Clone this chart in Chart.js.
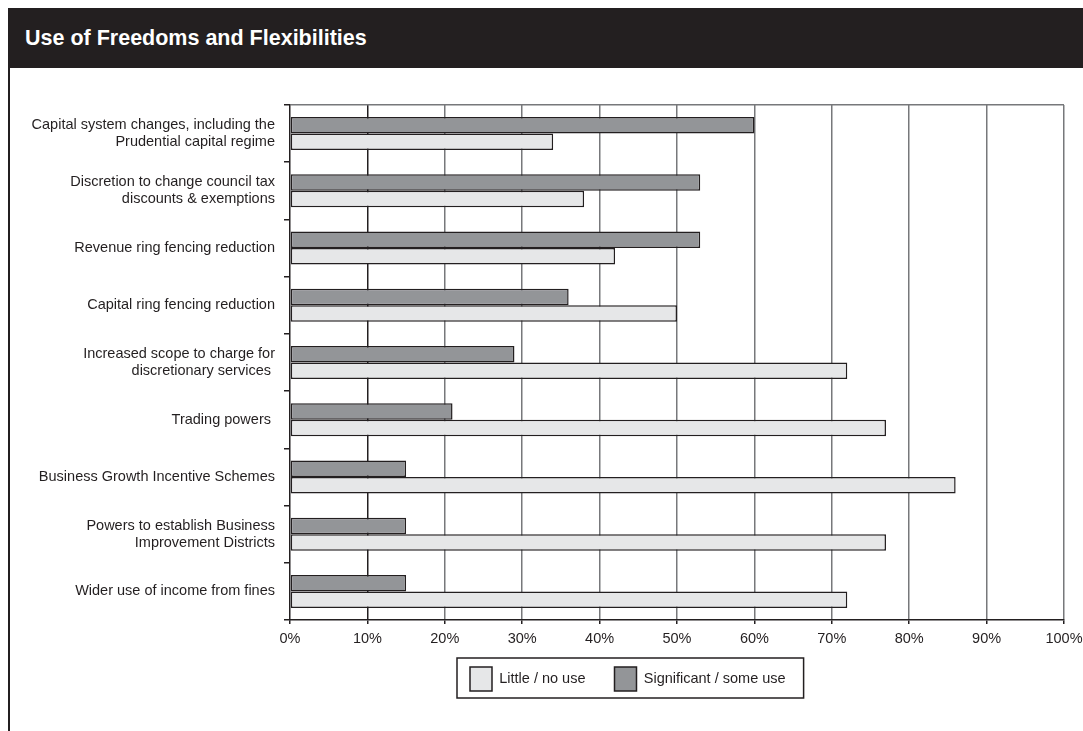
<!DOCTYPE html>
<html>
<head>
<meta charset="utf-8">
<title>Use of Freedoms and Flexibilities</title>
<script src="https://cdn.jsdelivr.net/npm/chart.js@4.4.0/dist/chart.umd.min.js"></script>
<style>
  html, body { margin: 0; padding: 0; background: #fff; }
  body { width: 1083px; height: 731px; position: relative; overflow: hidden;
         font-family: "Liberation Sans", Arial, Helvetica, sans-serif; }
  .titlebar { position: absolute; left: 8px; top: 8px; right: 0; height: 60px; background: #231f20; }
  .titlebar h1 { margin: 0; position: absolute; left: 17px; top: 18px; color: #fff;
                 font-size: 21.5px; font-weight: bold; }
  .edge { position: absolute; left: 8px; top: 8px; bottom: 0; width: 2px; background: #231f20; }
  #chart { position: absolute; left: 0; top: 0; }
</style>
</head>
<body>
<div class="titlebar"><h1>Use of Freedoms and Flexibilities</h1></div>
<div class="edge"></div>
<canvas id="chart" width="1083" height="731"></canvas>

<script>
// survey responses, % of councils
const categories = [
  ['Capital system changes, including the', 'Prudential capital regime'],
  ['Discretion to change council tax', 'discounts & exemptions'],
  'Revenue ring fencing reduction',
  'Capital ring fencing reduction',
  ['Increased scope to charge for', 'discretionary services '],
  'Trading powers ',
  'Business Growth Incentive Schemes',
  ['Powers to establish Business', 'Improvement Districts'],
  'Wider use of income from fines'
];
const significantUse = [60, 53, 53, 36, 29, 21, 15, 15, 15];
const littleUse = [34, 38, 42, 50, 72, 77, 86, 77, 72];
const xTickLabels = ['0%', '10%', '20%', '30%', '40%', '50%', '60%', '70%', '80%', '90%', '100%'];

const INK = '#231f20';
const GRID = '#77787b';

Chart.defaults.font.family = '"Liberation Sans", Arial, Helvetica, sans-serif';
Chart.defaults.font.size = 14.5;
Chart.defaults.color = INK;

// legend sits in a framed box under the axis
const legendFrame = {
  id: 'legendFrame',
  afterLayout(chart) {
    const lg = chart.legend;
    const pad = lg.options.labels.padding;
    const w = lg.right - lg.left, h = lg.bottom - lg.top;
    lg.left = 470 - pad; lg.right = lg.left + w;
    lg.top = 667 - pad; lg.bottom = lg.top + h;
  },
  afterDraw(chart) {
    const boxes = chart.legend.legendHitBoxes;
    if (!boxes || !boxes.length) return;
    const first = boxes[0], last = boxes[boxes.length - 1];
    const ctx = chart.ctx;
    ctx.save();
    ctx.strokeStyle = INK;
    ctx.lineWidth = 1.5;
    ctx.strokeRect(first.left - 13, first.top - 9,
      last.left + last.width - first.left + 31, first.height + 16);
    ctx.restore();
  }
};

new Chart(document.getElementById('chart'), {
  type: 'bar',
  data: {
    labels: categories,
    datasets: [
      {
        label: 'Significant / some use',
        data: significantUse,
        backgroundColor: '#939598',
        borderColor: INK,
        borderWidth: 1.5,
        borderSkipped: false
      },
      {
        label: 'Little / no use',
        data: littleUse,
        backgroundColor: '#e6e7e8',
        borderColor: INK,
        borderWidth: 1.5,
        borderSkipped: false
      }
    ]
  },
  options: {
    indexAxis: 'y',
    responsive: false,
    animation: false,
    devicePixelRatio: 1,
    categoryPercentage: 0.577,
    barPercentage: 1.0,
    layout: { padding: { top: 105, right: 0, bottom: 0, left: 0 } },
    scales: {
      x: {
        min: 0,
        max: 100,
        ticks: {
          stepSize: 10,
          padding: 6,
          maxRotation: 0,
          callback: (v, i) => xTickLabels[i]
        },
        grid: {
          color: c => c.index === 0 ? 'transparent' : (c.index === 1 ? INK : GRID),
          lineWidth: 1.5,
          tickColor: INK,
          tickLength: 4
        },
        border: { color: INK, width: 1.5 },
        afterFit: s => { s.height = 48; s.paddingRight = 19; }
      },
      y: {
        ticks: {
          padding: 9,
          font: { lineHeight: 1.17 }
        },
        grid: {
          offset: true,
          color: c => c.index === 0 ? GRID : 'transparent',
          lineWidth: 1.5,
          tickColor: INK,
          tickLength: 6
        },
        border: { color: INK, width: 1.5 },
        afterFit: s => { s.width = 290; }
      }
    },
    plugins: {
      tooltip: { enabled: false },
      legend: {
        position: 'bottom',
        align: 'start',
        reverse: true,
        labels: {
          boxWidth: 22,
          boxHeight: 24,
          padding: 29,
          color: INK,
          font: { size: 14.5 }
        }
      }
    }
  },
  plugins: [legendFrame]
});
</script>
</body>
</html>
